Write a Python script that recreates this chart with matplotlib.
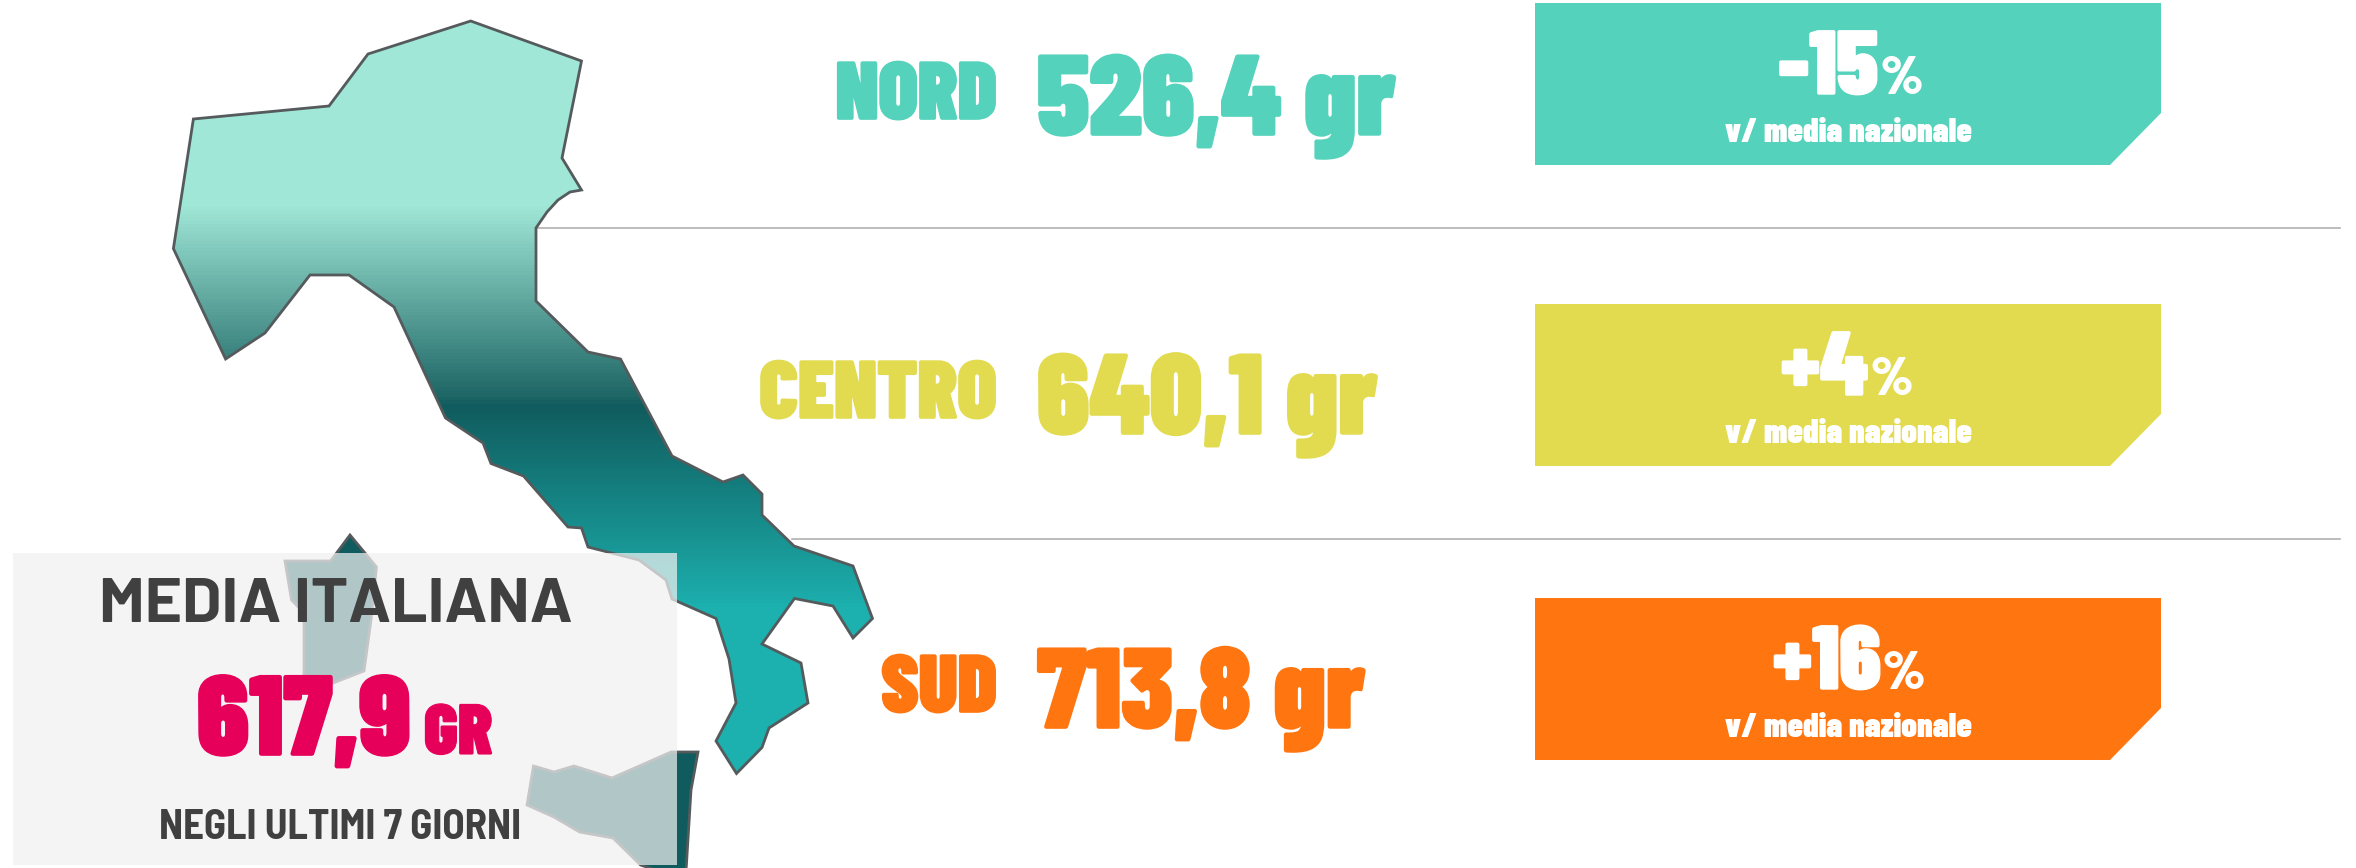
import matplotlib
matplotlib.use("Agg")
import matplotlib.pyplot as plt
import matplotlib.patheffects as pe
from matplotlib.colors import LinearSegmentedColormap
from matplotlib.patches import Polygon, Rectangle
import numpy as np

# outlines, pixels of the 2356x868 image
italy_x = [470.7, 581.5, 562, 581.5, 570, 558, 547, 536, 536, 588, 620.5, 672, 723, 743, 762, 762, 794, 853,
           872.5, 853, 833, 794.5, 762, 801, 808, 769, 762, 736.5, 716, 736, 729, 716, 672, 666, 639, 588,
           581.5, 568, 523.5, 491, 483, 445.5, 394, 349, 310, 265, 225.6, 173.4, 193.4, 329, 368]
italy_y = [21, 61, 158, 190, 192, 200, 212, 228, 301, 352, 359, 456, 482, 475, 494, 515, 546, 566,
           618.5, 638, 606, 598.5, 644, 663, 703, 728, 747.5, 773.5, 741, 703, 659, 618.5, 599, 580, 560, 547,
           528, 527, 476, 463.5, 443, 418, 307, 275, 275, 333, 359, 248.6, 119, 106, 54]
sardinia_x = [350, 376.5, 371, 364, 333, 304, 304, 291.5, 285, 330.6]
sardinia_y = [535, 567, 620, 671, 683, 683, 613, 600, 561, 561]
sicily_x = [533.5, 554, 574, 612, 671, 698, 691, 686.4, 685, 640.5, 613, 579.5, 554, 527]
sicily_y = [766, 772, 766, 778, 752, 752, 790, 865, 880, 865, 838, 832, 817, 805]

regions = ["NORD", "CENTRO", "SUD"]
grams = ["526,4 gr", "640,1 gr", "713,8 gr"]
deltas = ["-15", "+4", "+16"]
colors = ["#54D2BB", "#E2DB50", "#FF750F"]
box_tops = [3, 304, 598]
baselines = [135, 434, 728]
delta_x = [1878, 1868, 1881]
sep_lines = [(536, 228), (792, 539)]

grad_stops = [0, 205, 395, 405, 608, 868]
grad_colors = ["#A0E7D7", "#A0E7D7", "#1F6766", "#105B5D", "#1CB0AE", "#1CB0AE"]

fig = plt.figure(figsize=(23.56, 8.68), dpi=100)
ax = fig.add_axes([0, 0, 1, 1])

for x0, y in sep_lines:
    ax.plot([x0, 2340], [y, y], color="#B0B0B0", lw=1.2, zorder=1)

# map with vertical gradient
cmap = LinearSegmentedColormap.from_list("italy", [(s / 868, c) for s, c in zip(grad_stops, grad_colors)])
italy = Polygon(np.column_stack([italy_x, italy_y]), closed=True, fc="none", ec="#555A5C", lw=2, zorder=2.5)
ax.add_patch(italy)
grad = np.linspace(0, 1, 868).reshape(-1, 1)
im = ax.imshow(grad, cmap=cmap, extent=(0, 2356, 868, 0), aspect="auto", zorder=2)
im.set_clip_path(italy)
for xs, ys in [(sardinia_x, sardinia_y), (sicily_x, sicily_y)]:
    ax.add_patch(Polygon(np.column_stack([xs, ys]), closed=True, fc="#105B5D", ec="#555A5C", lw=2, zorder=2.5))

# panel of the national mean
ax.add_patch(Rectangle((13, 553), 664, 312, fc="#F1F1F1", alpha=0.72, ec="none", zorder=3))


def txt(x, y, s, size, color, ha="left", font="Barlow Condensed", weight=900, stroke=0):
    t = ax.text(x, y, s, fontsize=size, color=color, ha=ha, va="baseline", fontweight=weight, zorder=5,
                family=[font, "DejaVu Sans"])
    if stroke:
        # the reference glyphs are a bit heavier than the black weight
        t.set_path_effects([pe.Stroke(linewidth=stroke, foreground=color)])
    return t


for i in range(3):
    top = box_tops[i]
    # box with the cut corner
    ax.add_patch(Polygon([(1535, top), (2161, top), (2161, top + 110), (2110, top + 162), (1535, top + 162)],
                         closed=True, fc=colors[i], ec="none", zorder=3))
    txt(997, baselines[i] - 16, regions[i], 58.5, colors[i], ha="right", stroke=1.2)
    txt(1037, baselines[i], grams[i], 82, colors[i], stroke=1.2)
    txt(delta_x[i], top + 91, deltas[i], 65, "white", ha="right", stroke=1)
    txt(delta_x[i] + 2, top + 91, "%", 40, "white")
    txt(1848, top + 139, "v/ media nazionale", 24.5, "white", ha="center")

txt(336, 622, "MEDIA ITALIANA", 46, "#404040", ha="center", font="Barlow", weight=700)
txt(197, 755, "617,9", 81.5, "#E6005A", stroke=1.2)
txt(424, 754, "GR", 51, "#E6005A", stroke=0.8)
txt(340, 839, "NEGLI ULTIMI 7 GIORNI", 29.5, "#404040", ha="center", font="Barlow Semi Condensed", weight=700)

ax.set_xlim(0, 2356)
ax.set_ylim(868, 0)
ax.axis("off")
fig.savefig("out.png", dpi=100)
